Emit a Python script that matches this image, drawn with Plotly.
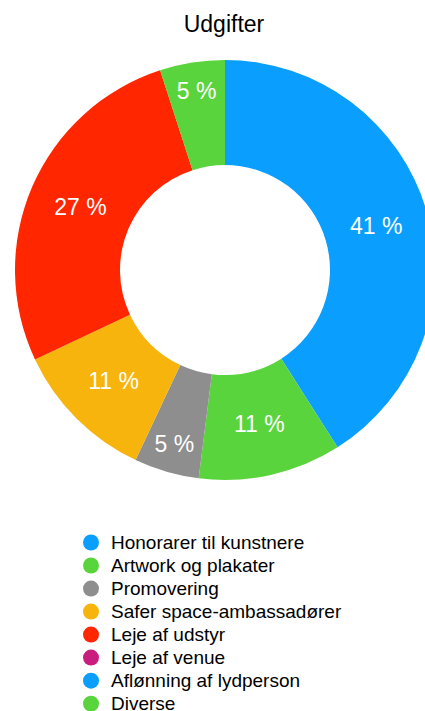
import plotly.graph_objects as go

# data
labels = ["Honorarer til kunstnere", "Artwork og plakater", "Promovering",
          "Safer space-ambassadører", "Leje af udstyr", "Leje af venue",
          "Aflønning af lydperson", "Diverse"]
values = [41, 11, 5, 11, 27, 0, 0, 5]
colors = ["#0a9fff", "#5ad43c", "#8e8e8e", "#f6b40c", "#ff2600",
          "#c81d7f", "#0a9fff", "#5ad43c"]

W, H = 450, 711
FONT = "Liberation Sans, Arial, Helvetica, sans-serif"

# only non-zero slices go in the ring
pie_labels = [l for l, v in zip(labels, values) if v > 0]
pie_values = [v for v in values if v > 0]
pie_colors = [c for c, v in zip(colors, values) if v > 0]
total = sum(pie_values)
pie_text = [f"{round(v / total * 100)} %" for v in pie_values]

fig = go.Figure()

fig.add_trace(go.Pie(
    labels=pie_labels,
    values=pie_values,
    text=pie_text,
    textinfo="text",
    textposition="inside",
    insidetextorientation="horizontal",
    textfont=dict(family=FONT, size=23, color="white"),
    marker=dict(colors=pie_colors, line=dict(width=0)),
    hole=0.5,
    sort=False,
    direction="clockwise",
    rotation=0,
    showlegend=False,
    domain=dict(x=[15 / W, 435 / W], y=[1 - 480 / H, 1 - 60 / H]),
))

# legend entries with round markers
for lab, col in zip(labels, colors):
    fig.add_trace(go.Scatter(
        x=[None], y=[None], mode="markers",
        name=f'<span style="font-size:19px">{lab}</span>',
        marker=dict(color=col, size=16, symbol="circle"),
        showlegend=True,
    ))

fig.update_xaxes(visible=False)
fig.update_yaxes(visible=False)

fig.update_layout(
    width=W,
    height=H,
    autosize=False,
    margin=dict(l=0, r=0, t=0, b=0, autoexpand=False),
    paper_bgcolor="white",
    plot_bgcolor="white",
    title=dict(text="Udgifter", x=224 / W, xanchor="center",
               y=1 - 24 / H, yanchor="middle",
               font=dict(family=FONT, size=23, color="black")),
    legend=dict(x=71 / W, xanchor="left", y=1 - 526 / H, yanchor="top",
                font=dict(family=FONT, size=15.4, color="black"),
                bgcolor="rgba(0,0,0,0)", itemclick=False),
)

# page without body margin; the ring runs past the right edge like the original
fig.write_html("out.html", config={"displayModeBar": False},
               post_script="document.body.style.margin='0';"
                           "document.body.style.overflow='hidden';")
